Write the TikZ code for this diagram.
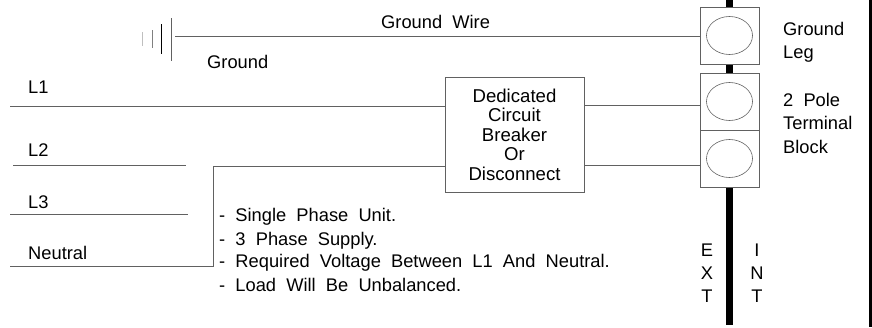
\documentclass[tikz,border=0pt]{standalone}
\usepackage{fontspec}
\setmainfont[WordSpace=2]{Liberation Sans}
\usetikzlibrary{shapes.geometric}
\definecolor{wire}{gray}{0.38}
\tikzset{
  x=1pt,y=-1pt,
  wireline/.style={draw=wire,line width=0.8pt},
  groundbar/.style={line width=0.9pt},
  termbox/.style={draw=wire,line width=0.9pt,fill=white,minimum width=59pt,minimum height=57pt,inner sep=0pt},
  termhole/.style={draw=wire,line width=0.6pt,ellipse,minimum width=46pt,minimum height=38pt,inner sep=0pt},
  label/.style={inner sep=0pt,anchor=base west,font=\fontsize{18.3}{18.3}\selectfont},
  breaker/.style={draw=wire,line width=1pt,fill=white,minimum width=139pt,minimum height=115pt,inner sep=0pt,align=center,font=\fontsize{18.6}{19.5}\selectfont},
  post/.style={fill=black,draw=none}
}
\begin{document}
\begin{tikzpicture}
\useasboundingbox (0,0) rectangle (872,327);
% wall and posts
\fill[post] (726,0) rectangle (733,325);
\fill[black] (869,0) rectangle (872,327);
% terminal block
\node[termbox] (tg) at (729.5,35.5) {};
\node[termbox] (t1) at (729.5,101.5) {};
\node[termbox] (t2) at (729.5,158.5) {};
\node[termhole] (hg) at (tg.center) {};
\node[termhole] (h1) at (t1.center) {};
\node[termhole] (h2) at (t2.center) {};
% breaker
\node[breaker] (cb) at (514.5,134.5) {Dedicated\\Circuit\\Breaker\\Or\\Disconnect};
% ground
\coordinate (gs) at (175,36);
\draw[wireline] (gs) -- (gs -| tg.west);
\draw[groundbar,draw=wire] (171,18) -- (171,61);
\draw[groundbar,draw=black] (161,24) -- (161,54);
\draw[groundbar,draw=gray] (152,30) -- (152,48);
\draw[groundbar,draw=lightgray] (142,32) -- (142,46);
% lines
\coordinate (l1) at (10,106);
\coordinate (l2a) at (13,165);\coordinate (l2b) at (186,165);
\coordinate (l3a) at (10,214);\coordinate (l3b) at (188,214);
\coordinate (na) at (10,266);\coordinate (nb) at (213,266);\coordinate (nc) at (213,166);
\coordinate (r1) at (584,105);\coordinate (r2) at (584,165);
\draw[wireline] (l1) -- (l1 -| cb.west);
\draw[wireline] (l2a) -- (l2b);
\draw[wireline] (l3a) -- (l3b);
\draw[wireline] (na) -- (nb) -- (nc) -- (nc -| cb.west);
\draw[wireline] (r1) -- (r1 -| t1.west);
\draw[wireline] (r2) -- (r2 -| t2.west);
% labels
\node[label] (tw) at (381,28) {Ground Wire};
\node[label] (tgr) at (207,68) {Ground};
\node[label] (tl1) at (28,93) {L1};
\node[label] (tl2) at (28,156) {L2};
\node[label] (tl3) at (28,208) {L3};
\node[label] (tn) at (28,259) {Neutral};
\node[label] (a1) at (219,221) {- Single Phase Unit.};
\node[label] (a2) at (219,245) {- 3 Phase Supply.};
\node[label] (a3) at (219,267) {- Required Voltage Between L1 And Neutral.};
\node[label] (a4) at (219,291) {- Load Will Be Unbalanced.};
\node[label] (gl1) at (783,35) {Ground};
\node[label] (gl2) at (783,58) {Leg};
\node[label] (p1) at (783,106) {2 Pole};
\node[label] (p2) at (783,129) {Terminal};
\node[label] (p3) at (783,153) {Block};
\node[label,anchor=base] (e1) at (707,256) {E};
\node[label,anchor=base] (e2) at (707,279) {X};
\node[label,anchor=base] (e3) at (707,302) {T};
\node[label,anchor=base] (i1) at (757,256) {I};
\node[label,anchor=base] (i2) at (757,279) {N};
\node[label,anchor=base] (i3) at (757,302) {T};
\end{tikzpicture}
\end{document}
